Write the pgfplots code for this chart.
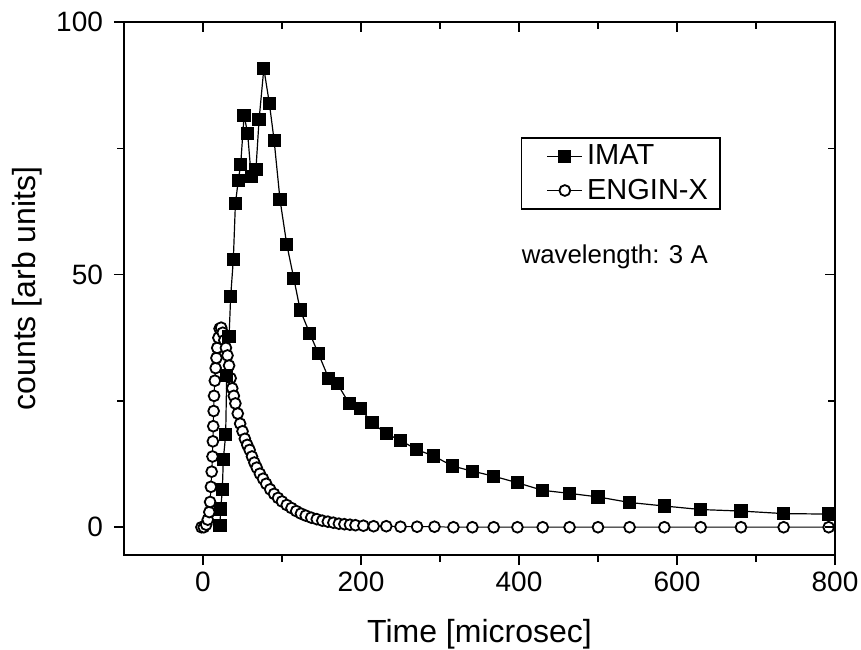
\documentclass[border=0pt]{standalone}
\usepackage{fontspec}
\setmainfont{Liberation Sans}
\usepackage{pgfplots}
\pgfplotsset{compat=1.18}
\usetikzlibrary{calc}

\pgfplotstableread{
x y
21.5 0.4
22.4 3.6
24.5 7.5
25.7 13.4
28.7 18.3
30 30
33 37.7
35 45.6
38.4 53
41 64
44.7 68.7
47.7 71.8
52 81.5
56.5 78
61 69.4
67 70.8
71 80.7
77 90.8
84 83.9
90 76.6
97.5 64.8
106 56
115 49.2
123 43
135 38.4
146 34.4
159 29.5
170 28.4
185 24.5
199 23.5
214 20.7
232 18.5
250 17.2
270 15.4
292 14.1
316 12.1
341 11.1
368 10.1
398 8.8
430 7.3
464 6.7
500 6.0
540 4.9
584 4.2
630 3.5
681 3.2
735 2.7
792 2.6
}\imat

\pgfplotstableread{
x y
-2 0
1 0
4 0.5
6 1.5
8 3
9 5
10 8
11 11
12 14
12.5 17
13 20
13.5 23
14 26
15 29
16 31.5
17 33.5
18 35.5
19.5 37.5
21 39.3
23 39.5
25 38.5
27 37
29 35.5
31 34
33 32
35 29.5
37 27.5
39 26
41 24.5
44 22.5
47 20.5
50 19
53 17.5
56 16.3
59 15.3
62 14
65 12.8
68 11.8
72 10.6
76 9.6
80 8.6
85 7.5
90 6.6
95 5.8
100 5.1
106 4.4
112 3.8
118 3.2
124 2.7
130 2.3
137 1.9
144 1.6
151 1.3
158 1.1
165 0.9
172 0.7
179 0.6
186 0.5
193 0.4
203 0.3
216 0.2
232 0.2
250 0.1
271 0.1
293 0.1
317 0
341 0
368 0
398 0
430 0
464 0
500 0
540 0
584 0
630 0
681 0
735 0
792 0
}\enginx

\begin{document}
\begin{tikzpicture}
\begin{axis}[name=ax, scale only axis, width=355.5pt, height=266.5pt,
  xmin=-100, xmax=800, ymin=-5.5, ymax=100,
  xtick={0,200,400,600,800}, ytick={0,50,100},
  minor xtick={100,300,500,700}, minor ytick={25,75},
  xtick pos=bottom, ytick pos=left, tick align=outside,
  major tick length=5pt, minor tick length=3.5pt,
  every tick/.style={black, line width=0.8pt},
  axis line style={line width=1pt},
  ticklabel style={font=\fontsize{14}{17}\selectfont},
  yticklabel style={xshift=-2pt},
  /pgf/number format/assume math mode=true,
  xlabel={Time [microsec]}, ylabel={counts [arb units]},
  label style={font=\fontsize{16}{19}\selectfont},
  xlabel style={yshift=-7pt},
  legend style={at={(rel axis cs:0.558,0.784)}, anchor=north west, draw=black, line width=0.8pt,
    font=\fontsize{14.5}{17}\selectfont, inner xsep=4pt, inner ysep=1.5pt, row sep=1.5pt},
  legend image code/.code={
    \path (-0.3cm,0cm);
    \draw[mark repeat=2,mark phase=2,#1] plot coordinates {(0cm,0cm) (0.31cm,0cm) (0.62cm,0cm)};
  },
  legend cell align=left,
  reverse legend,
]
\addplot[black, line width=0.5pt, mark=*, mark size=2.7pt, mark options={fill=white, draw=black, line width=0.9pt}] table[x=x,y=y] {\enginx};
\addplot[black, line width=0.6pt, mark=square*, mark size=3pt, mark options={fill=black}] table[x=x,y=y] {\imat};
\legend{ENGIN-X, IMAT}
\node[anchor=west, font=\fontsize{12.9}{15}\selectfont, inner sep=0pt] at (axis cs:403,53.5) {wavelength: 3 A};
\end{axis}
\begin{axis}[at={(ax.south west)}, anchor=south west, scale only axis, width=355.5pt, height=266.5pt,
  xmin=-100, xmax=800, ymin=-5.5, ymax=100,
  xtick={0,200,400,600,800}, ytick={0,50,100},
  minor xtick={100,300,500,700}, minor ytick={25,75},
  xtick pos=top, ytick pos=right, tick align=inside,
  major tick length=5pt, minor tick length=3.5pt,
  every tick/.style={black, line width=0.8pt},
  axis line style={draw=none},
  xticklabels={}, yticklabels={},
]
\addplot[draw=none] coordinates {(0,0)};
\end{axis}
\pgfresetboundingbox
\path ($(ax.south west)+(-62pt,-47pt)$) rectangle ($(ax.north east)+(13pt,11pt)$);
\end{tikzpicture}
\end{document}
